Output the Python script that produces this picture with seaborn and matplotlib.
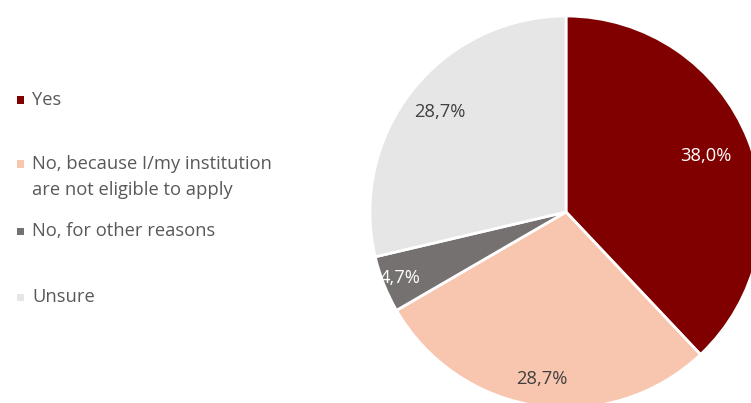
import matplotlib
matplotlib.use("Agg")
import matplotlib.pyplot as plt
import seaborn as sns
import numpy as np
from matplotlib.patches import Rectangle

categories = ["Yes", "No, because I/my institution\nare not eligible to apply",
              "No, for other reasons", "Unsure"]
values = [38.0, 28.7, 4.7, 28.7]
pct_labels = ["38,0%", "28,7%", "4,7%", "28,7%"]
colors = ["#800000", "#F8C5AF", "#757171", "#E7E6E6"]
label_colors = ["white", "#404040", "white", "#404040"]
label_dist = [0.77, 0.86, 0.91, 0.82]

sns.set_theme(style="white")
plt.rcParams['font.family'] = ['Open Sans', 'DejaVu Sans']

fig = plt.figure(figsize=(7.51, 4.03), dpi=100)
W, H = 751, 403
cx, cy, r = 566, 212, 196
ax = fig.add_axes([(cx - r) / W, (H - cy - r) / H, 2 * r / W, 2 * r / H])
wedges, _ = ax.pie(values, colors=colors, startangle=90, counterclock=False,
                   wedgeprops=dict(edgecolor="white", linewidth=2))
ax.set_xlim(-1, 1)
ax.set_ylim(-1, 1)
ax.set_aspect("equal")
ax.axis("off")

for w, lab, c, d in zip(wedges, pct_labels, label_colors, label_dist):
    ang = np.deg2rad((w.theta1 + w.theta2) / 2)
    ax.text(d * np.cos(ang), d * np.sin(ang), lab, ha="center", va="center",
            color=c, fontsize=13.2)

# legend
leg_y = [100, 177, 231, 297]
mark_y = [100, 164, 231, 297]
for cat, col, y, my in zip(categories, colors, leg_y, mark_y):
    fig.patches.append(Rectangle((17 / W, (H - my - 3.5) / H), 7 / W, 7 / H,
                                 transform=fig.transFigure, facecolor=col,
                                 edgecolor="none"))
    fig.text(32 / W, (H - y) / H, cat, ha="left", va="center", fontsize=13.2,
             color="#595959", linespacing=1.55)

fig.savefig("out.png", dpi=100)
